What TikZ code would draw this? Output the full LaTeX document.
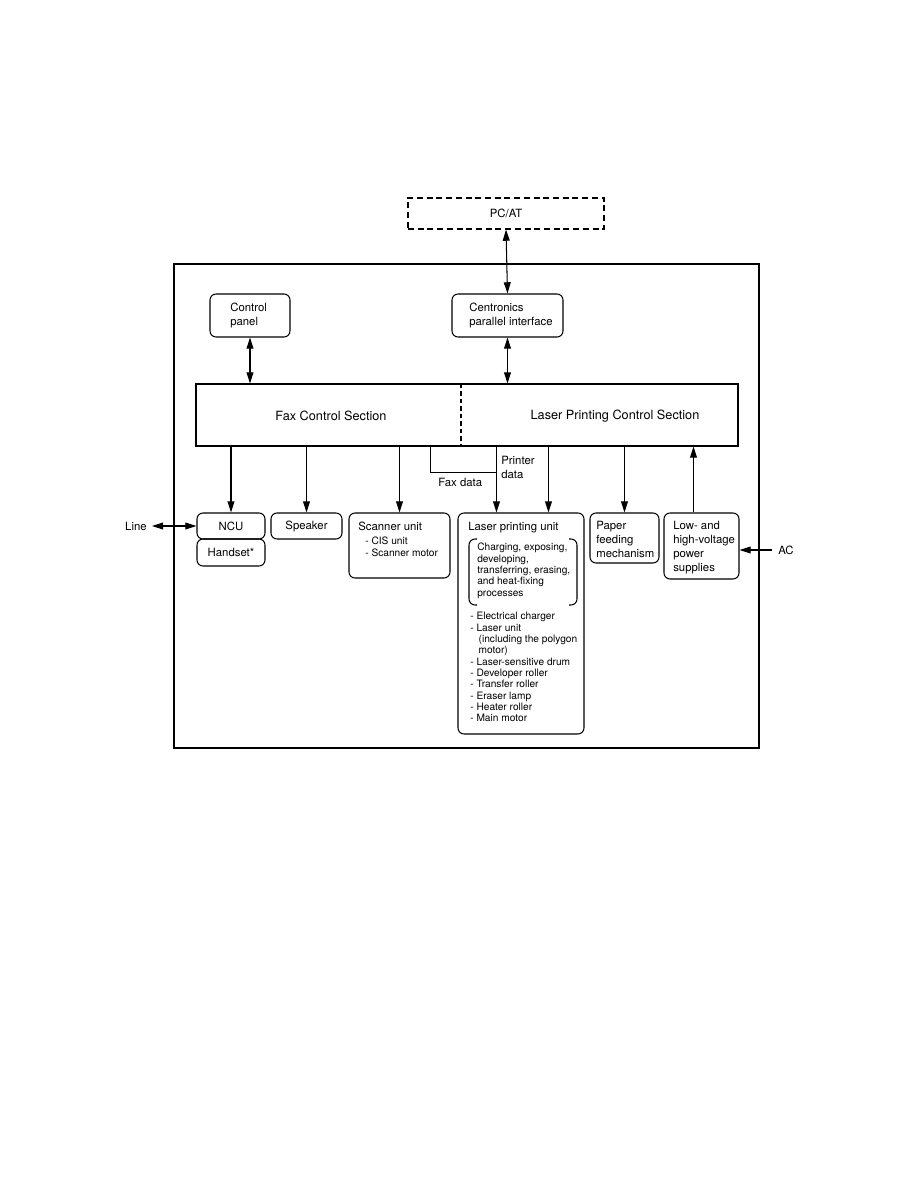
\documentclass[tikz,border=0pt]{standalone}
\usepackage{fontspec}
\setmainfont{TeX Gyre Heros}
\usepackage{tikz}
\usetikzlibrary{arrows.meta, calc, fit}

\begin{document}
\begin{tikzpicture}[x=0.02352cm, y=-0.02352cm,
  every node/.style={font=\fontsize{7.6}{9.4}\selectfont},
  blk/.style={draw, line width=0.7pt, rounded corners=4pt, inner sep=0pt},
  txt/.style={inner sep=0pt, align=left, anchor=north west},
  small/.style={txt, font=\fontsize{6.8}{7.6}\selectfont},
  arr/.style={-{Triangle[length=7.5pt,width=4.6pt]}, line width=0.7pt},
  dbl/.style={{Triangle[length=7.5pt,width=4.6pt]}-{Triangle[length=7.5pt,width=4.6pt]}, line width=0.7pt}]
  \useasboundingbox (0,0) rectangle (918,1188);

  % host and unit frame
  \node[draw, line width=0.7pt, dash pattern=on 4pt off 2.5pt, inner sep=0pt,
        fit={(408,198) (604,229)}] (pcat) {};
  \node (pcattxt) at (pcat.center) {PC/AT};
  \node[draw, line width=1.4pt, inner sep=0pt, fit={(174,264) (759,748)}] (unit) {};

  % top boxes
  \node[blk, fit={(210,294) (290,337)}] (panel) {};
  \node[txt] (paneltxt) at (230,303) {Control\\panel};
  \node[blk, fit={(452,294) (563,337)}] (cent) {};
  \node[txt] (centtxt) at (469,303) {Centronics\\parallel interface};

  % control sections
  \node[draw, line width=0.7pt, inner sep=0pt, fit={(196,384) (738,446)}] (sec) {};
  \draw[line width=0.7pt, dash pattern=on 3pt off 2pt] (461,384) -- (461,446);
  \node[font=\fontsize{8.5}{10}\selectfont] (fax) at (331,416) {Fax Control Section};
  \node[font=\fontsize{8.5}{10}\selectfont] (lpc) at (615,416) {Laser Printing Control Section};

  % bottom boxes
  \node[blk, fit={(197,513) (265,539)}] (ncu) {};
  \node (ncutxt) at (ncu.center) {NCU};
  \node[blk, fit={(197,539) (265,566)}] (hset) {};
  \node (hsettxt) at (hset.center) {Handset*};
  \node[blk, fit={(271,513) (342,539)}] (spk) {};
  \node (spktxt) at (spk.center) {Speaker};
  \node[blk, fit={(349,513) (450,578)}] (scan) {};
  \node[txt] (scantxt) at (358,522) {Scanner unit};
  \node[small] (scanlist) at (365,537) {- CIS unit\\- Scanner motor};
  \node[blk, fit={(458,513) (584,734)}] (lpu) {};
  \node[txt] (lputxt) at (468,522) {Laser printing unit};
  \node[small] (procs) at (477,543)
    {Charging, exposing,\\developing,\\transferring, erasing,\\and heat-fixing\\processes};
  \draw[line width=0.7pt, rounded corners=4pt] (477,539) -- (469,539) -- (469,605) -- (477,605);
  \draw[line width=0.7pt, rounded corners=4pt] (569,539) -- (577,539) -- (577,605) -- (569,605);
  \node[small] (parts) at (470,612) {- Electrical charger\\- Laser unit\\
    \hspace*{5.6pt}(including the polygon\\\hspace*{5.6pt}motor)\\- Laser-sensitive drum\\
    - Developer roller\\- Transfer roller\\- Eraser lamp\\- Heater roller\\- Main motor};
  \node[blk, fit={(590,513) (659,563)}] (paper) {};
  \node[txt] (papertxt) at (596,521) {Paper\\feeding\\mechanism};
  \node[blk, fit={(664,513) (739,579)}] (psu) {};
  \node[txt] (psutxt) at (673,521) {Low- and\\high-voltage\\power\\supplies};

  % outside connections
  \node[anchor=east, inner sep=0pt] (line) at (147,526) {Line};
  \node[anchor=west, inner sep=0pt] (ac) at (778,550) {AC};

  % connectors
  \draw[dbl] (pcat.south) -- (cent.north);
  \draw[dbl] (panel.south) -- (panel.south |- sec.north);
  \draw[dbl] (cent.south) -- (cent.south |- sec.north);
  \draw[arr] (ncu.north |- sec.south) -- (ncu.north);
  \draw[arr] (spk.north |- sec.south) -- (spk.north);
  \draw[arr] (scan.north |- sec.south) -- (scan.north);
  \coordinate (pdat) at ($(lpu.north west)+(39,0)$);
  \coordinate (ctrl) at ($(lpu.north west)+(91,0)$);
  \coordinate (fdat) at ($(sec.south west)+(235,0)$);
  \coordinate (pwr) at ($(psu.north)+(-8,0)$);
  \coordinate (acin) at ($(ac.west)+(-6,0)$);
  \draw[arr] (pdat |- sec.south) -- (pdat);
  \draw[line width=0.7pt] (fdat) |- ($(pdat)+(0,-40)$);
  \node[txt] (pdattxt) at (501,456) {Printer\\data};
  \node[txt] (faxdat) at (438,478) {Fax data};
  \draw[arr] (ctrl |- sec.south) -- (ctrl);
  \draw[arr] (paper.north |- sec.south) -- (paper.north);
  \draw[arr] (pwr) -- (pwr |- sec.south);
  \draw[dbl] ($(line.east)+(5,0)$) -- (ncu.west);
  \draw[arr] (acin) -- (acin -| psu.east);
\end{tikzpicture}
\end{document}
